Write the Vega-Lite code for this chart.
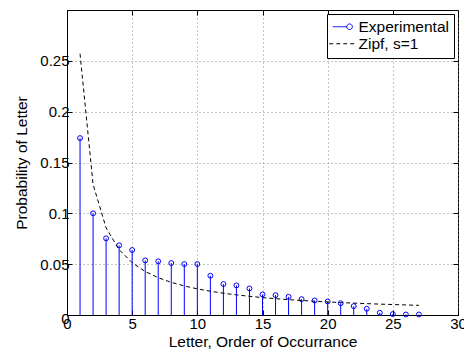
{
  "$schema": "https://vega.github.io/schema/vega-lite/v6.json",
  "width": 391,
  "height": 305,
  "autosize": {"type": "none"},
  "padding": {"left": 67, "top": 10, "right": 6, "bottom": 34},
  "background": "white",
  "config": {
    "font": "Liberation Sans",
    "view": {"stroke": "black", "strokeWidth": 1},
    "axis": {
      "labelFont": "Liberation Sans",
      "titleFont": "Liberation Sans",
      "labelFontSize": 15,
      "titleFontSize": 15.5,
      "titleFontWeight": "normal",
      "labelColor": "black",
      "titleColor": "black",
      "domainColor": "black",
      "tickColor": "black",
      "tickSize": -5,
      "gridColor": "#7f7f7f",
      "gridDash": [1, 3],
      "gridOpacity": 0.9
    },
    "legend": {
      "labelFont": "Liberation Sans",
      "labelFontSize": 15.5,
      "labelColor": "black",
      "orient": "top-right",
      "offset": 4,
      "padding": 5,
      "strokeColor": "black",
      "fillColor": "white",
      "symbolSize": 196,
      "symbolStrokeWidth": 1,
      "symbolOpacity": 1,
      "symbolFillColor": "transparent",
      "labelOffset": 11,
      "rowPadding": 0
    }
  },
  "data": {
    "values": [
      {"k": 1, "p": 0.174, "series": "Experimental"},
      {"k": 2, "p": 0.100, "series": "Experimental"},
      {"k": 3, "p": 0.0754, "series": "Experimental"},
      {"k": 4, "p": 0.0685, "series": "Experimental"},
      {"k": 5, "p": 0.0639, "series": "Experimental"},
      {"k": 6, "p": 0.0537, "series": "Experimental"},
      {"k": 7, "p": 0.0528, "series": "Experimental"},
      {"k": 8, "p": 0.0511, "series": "Experimental"},
      {"k": 9, "p": 0.0501, "series": "Experimental"},
      {"k": 10, "p": 0.0501, "series": "Experimental"},
      {"k": 11, "p": 0.0386, "series": "Experimental"},
      {"k": 12, "p": 0.0304, "series": "Experimental"},
      {"k": 13, "p": 0.0291, "series": "Experimental"},
      {"k": 14, "p": 0.0261, "series": "Experimental"},
      {"k": 15, "p": 0.0202, "series": "Experimental"},
      {"k": 16, "p": 0.0195, "series": "Experimental"},
      {"k": 17, "p": 0.0179, "series": "Experimental"},
      {"k": 18, "p": 0.0156, "series": "Experimental"},
      {"k": 19, "p": 0.0143, "series": "Experimental"},
      {"k": 20, "p": 0.0133, "series": "Experimental"},
      {"k": 21, "p": 0.0116, "series": "Experimental"},
      {"k": 22, "p": 0.0087, "series": "Experimental"},
      {"k": 23, "p": 0.0061, "series": "Experimental"},
      {"k": 24, "p": 0.0022, "series": "Experimental"},
      {"k": 25, "p": 0.0009, "series": "Experimental"},
      {"k": 26, "p": 0.0005, "series": "Experimental"},
      {"k": 27, "p": 0.0005, "series": "Experimental"},
      {"k": 1, "p": 0.257, "series": "Zipf, s=1"},
      {"k": 2, "p": 0.1285, "series": "Zipf, s=1"},
      {"k": 3, "p": 0.0857, "series": "Zipf, s=1"},
      {"k": 4, "p": 0.0643, "series": "Zipf, s=1"},
      {"k": 5, "p": 0.0514, "series": "Zipf, s=1"},
      {"k": 6, "p": 0.0428, "series": "Zipf, s=1"},
      {"k": 7, "p": 0.0367, "series": "Zipf, s=1"},
      {"k": 8, "p": 0.0321, "series": "Zipf, s=1"},
      {"k": 9, "p": 0.0286, "series": "Zipf, s=1"},
      {"k": 10, "p": 0.0257, "series": "Zipf, s=1"},
      {"k": 11, "p": 0.0234, "series": "Zipf, s=1"},
      {"k": 12, "p": 0.0214, "series": "Zipf, s=1"},
      {"k": 13, "p": 0.0198, "series": "Zipf, s=1"},
      {"k": 14, "p": 0.0184, "series": "Zipf, s=1"},
      {"k": 15, "p": 0.0171, "series": "Zipf, s=1"},
      {"k": 16, "p": 0.0161, "series": "Zipf, s=1"},
      {"k": 17, "p": 0.0151, "series": "Zipf, s=1"},
      {"k": 18, "p": 0.0143, "series": "Zipf, s=1"},
      {"k": 19, "p": 0.0135, "series": "Zipf, s=1"},
      {"k": 20, "p": 0.0129, "series": "Zipf, s=1"},
      {"k": 21, "p": 0.0122, "series": "Zipf, s=1"},
      {"k": 22, "p": 0.0117, "series": "Zipf, s=1"},
      {"k": 23, "p": 0.0112, "series": "Zipf, s=1"},
      {"k": 24, "p": 0.0107, "series": "Zipf, s=1"},
      {"k": 25, "p": 0.0103, "series": "Zipf, s=1"},
      {"k": 26, "p": 0.0099, "series": "Zipf, s=1"},
      {"k": 27, "p": 0.0095, "series": "Zipf, s=1"}
    ]
  },
  "resolve": {"axis": {"x": "independent", "y": "independent"}},
  "layer": [
    {
      "transform": [{"filter": "datum.series === 'Experimental'"}],
      "mark": {"type": "rule", "color": "#0000ff", "strokeWidth": 1},
      "encoding": {
        "x": {
          "field": "k", "type": "quantitative",
          "scale": {"domain": [0, 30], "nice": false},
          "axis": {"values": [0, 5, 10, 15, 20, 25, 30], "title": "Letter, Order of Occurrance", "titlePadding": 3, "labelPadding": 6, "grid": true, "labelFlush": false}
        },
        "y": {
          "field": "p", "type": "quantitative",
          "scale": {"domain": [0, 0.3], "nice": false},
          "axis": {"values": [0, 0.05, 0.1, 0.15, 0.2, 0.25], "labelExpr": "'' + datum.value", "title": "Probability of Letter", "titlePadding": 10, "labelPadding": 3, "grid": true,
            "labelOffset": {"condition": {"test": "datum.value === 0", "value": 3}, "value": 0}}
        },
        "y2": {"datum": 0}
      }
    },
    {
      "transform": [{"filter": "datum.series === 'Experimental'"}],
      "mark": {"type": "point", "shape": "circle", "filled": false, "size": 24, "strokeWidth": 1, "opacity": 1, "color": "#0000ff"},
      "encoding": {
        "x": {"field": "k", "type": "quantitative", "axis": {"orient": "top", "values": [0, 5, 10, 15, 20, 25, 30], "labels": false, "title": null, "grid": false, "domain": false}},
        "y": {"field": "p", "type": "quantitative", "axis": {"orient": "right", "values": [0, 0.05, 0.1, 0.15, 0.2, 0.25], "labels": false, "title": null, "grid": false, "domain": false}}
      }
    },
    {
      "transform": [{"filter": "datum.series === 'Zipf, s=1'"}],
      "mark": {"type": "line", "strokeDash": [4, 3], "strokeWidth": 1, "color": "black"},
      "encoding": {
        "x": {"field": "k", "type": "quantitative", "axis": null},
        "y": {"field": "p", "type": "quantitative", "axis": null}
      }
    },
    {
      "mark": {"type": "point", "filled": false, "opacity": 0, "size": 1, "strokeWidth": 1},
      "encoding": {
        "x": {"field": "k", "type": "quantitative", "axis": null},
        "y": {"field": "p", "type": "quantitative", "axis": null},
        "color": {
          "field": "series", "type": "nominal", "title": null,
          "scale": {"domain": ["Experimental", "Zipf, s=1"], "range": ["#0000ff", "#000000"]}
        },
        "shape": {
          "field": "series", "type": "nominal", "title": null,
          "scale": {"domain": ["Experimental", "Zipf, s=1"], "range": ["M-1,0H1M1,0A0.4,0.4 0 1,1 1.8,0A0.4,0.4 0 1,1 1,0", "M-1.5,0H2.2"]}
        },
        "strokeDash": {
          "field": "series", "type": "nominal", "title": null,
          "scale": {"domain": ["Experimental", "Zipf, s=1"], "range": [[1, 0], [4, 3]]}
        }
      }
    }
  ]
}
